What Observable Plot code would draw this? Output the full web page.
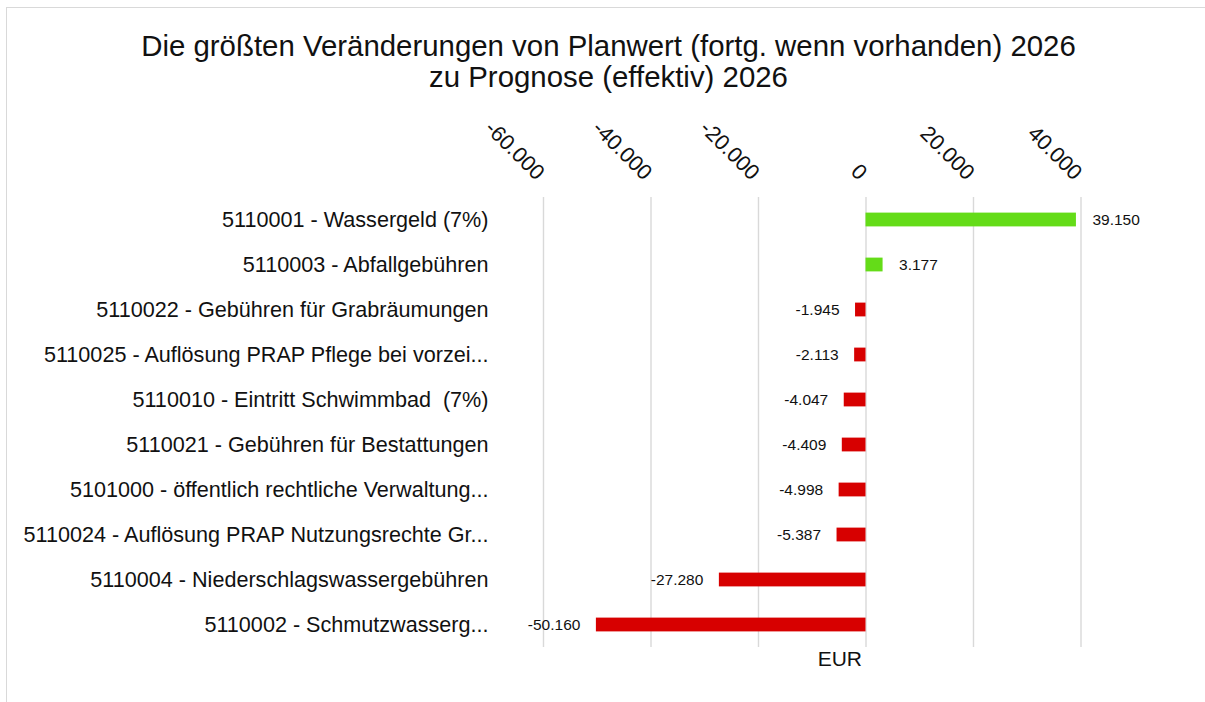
<!DOCTYPE html>
<html>
<head>
<meta charset="utf-8">
<script src="https://cdn.jsdelivr.net/npm/d3@7"></script>
<script src="https://cdn.jsdelivr.net/npm/@observablehq/plot@0.6"></script>
<style>
  html, body { margin: 0; padding: 0; background: #fff; }
  #wrap { position: relative; width: 1205px; height: 702px; overflow: hidden; font-family: "Liberation Sans", Arial, sans-serif; }
  #frame { position: absolute; left: 6px; top: 7px; width: 1400px; height: 900px; border-top: 1.5px solid #d9d9d9; border-left: 1.5px solid #d9d9d9; z-index: 0; }
  #title { position: relative; z-index: 1; box-sizing: border-box; width: 1205px; height: 110px; padding-top: 30px; padding-left: 12px; text-align: center; font-size: 29.4px; line-height: 31px; color: #111; }
  #chart { position: relative; z-index: 1; }
  #chart svg { display: block; }
</style>
</head>
<body>
<div id="wrap">
  <div id="frame"></div>
  <div id="title">Die größten Veränderungen von Planwert (fortg. wenn vorhanden) 2026<br>zu Prognose (effektiv) 2026</div>
  <div id="chart"></div>
</div>
<script>
const categories = [
  "5110001 - Wassergeld (7%)",
  "5110003 - Abfallgebühren",
  "5110022 - Gebühren für Grabräumungen",
  "5110025 - Auflösung PRAP Pflege bei vorzei...",
  "5110010 - Eintritt Schwimmbad  (7%)",
  "5110021 - Gebühren für Bestattungen",
  "5101000 - öffentlich rechtliche Verwaltung...",
  "5110024 - Auflösung PRAP Nutzungsrechte Gr...",
  "5110004 - Niederschlagswassergebühren",
  "5110002 - Schmutzwasserg..."
];
const values = [39150, 3177, -1945, -2113, -4047, -4409, -4998, -5387, -27280, -50160];
const tickValues = [-60000, -40000, -20000, 0, 20000, 40000];
const tickLabels = ["-60.000", "-40.000", "-20.000", "0", "20.000", "40.000"];
const axisTitle = "EUR";

const GREEN = "#64dc18";
const RED = "#d70000";
const de = d3.formatLocale({decimal: ",", thousands: ".", grouping: [3], currency: ["", " €"], minus: "-"});
const fmt = de.format(",d");

const data = categories.map((c, i) => ({cat: c, value: values[i]}));
const pos = data.filter(d => d.value >= 0);
const neg = data.filter(d => d.value < 0);

const plot = Plot.plot({
  width: 1205,
  height: 592,
  marginLeft: 543,
  marginRight: 124.5,
  marginTop: 87,
  marginBottom: 55,
  x: {domain: [-60000, 40000], axis: null},
  y: {domain: categories, axis: null, padding: 0},
  color: {type: "identity"},
  style: {fontFamily: "'Liberation Sans', Arial, sans-serif", color: "#111", background: "transparent", overflow: "visible"},
  marks: [
    Plot.ruleX(tickValues, {x: d => d, stroke: "#d9d9d9", strokeWidth: 1.4}),
    Plot.barX(data, {x: "value", y: "cat", fill: d => d.value >= 0 ? GREEN : RED, insetTop: 15.6, insetBottom: 15.6}),
    Plot.text(pos, {x: "value", y: "cat", text: d => fmt(d.value), textAnchor: "start", dx: 16, fontSize: 15.5, fill: "#111"}),
    Plot.text(neg, {x: "value", y: "cat", text: d => fmt(d.value), textAnchor: "end", dx: -16, fontSize: 15.5, fill: "#111"}),
    Plot.text(categories, {y: d => d, text: d => d, frameAnchor: "left", dx: -55, textAnchor: "end", fontSize: 21.6, fill: "#111"}),
    Plot.text(tickValues, {x: d => d, text: (d, i) => tickLabels[i], frameAnchor: "top", dy: -27, dx: 3, rotate: 45, textAnchor: "end", fontSize: 21.6, fill: "#111"}),
    Plot.text([axisTitle], {x: () => 0, text: d => d, frameAnchor: "bottom", dy: 18, dx: -4, textAnchor: "end", fontSize: 21, fill: "#111"})
  ]
});
document.getElementById("chart").appendChild(plot);
</script>
</body>
</html>
